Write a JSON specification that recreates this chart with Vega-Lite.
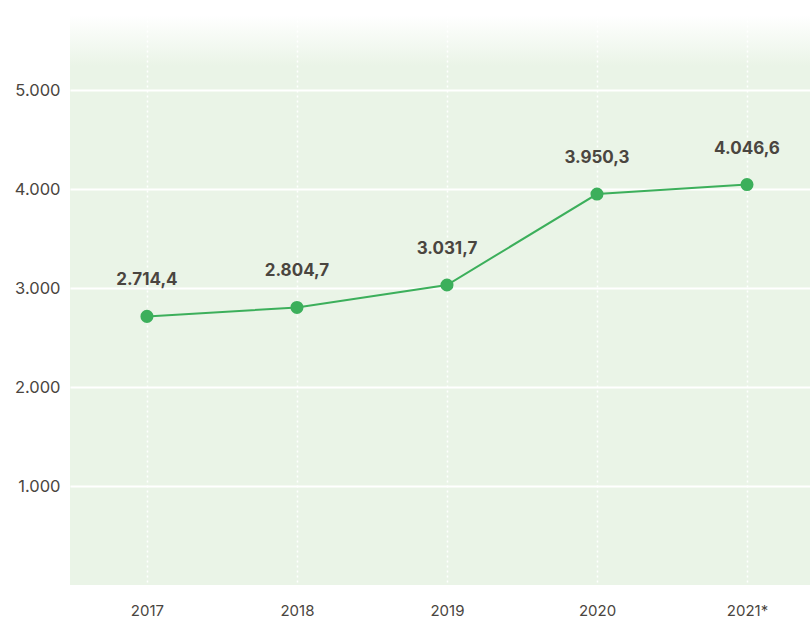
{
  "$schema": "https://vega.github.io/schema/vega-lite/v6.json",
  "width": 740,
  "height": 570,
  "autosize": "none",
  "padding": {"left": 70, "top": 15, "right": 0, "bottom": 35},
  "background": "white",
  "config": {
    "locale": {"number": {"decimal": ",", "thousands": ".", "grouping": [3], "currency": ["", " €"]}},
    "view": {
      "stroke": null,
      "fill": {"gradient": "linear", "x1": 0, "y1": 0, "x2": 0, "y2": 1,
        "stops": [{"offset": 0, "color": "#ffffff"}, {"offset": 0.09, "color": "#eaf4e7"}, {"offset": 1, "color": "#eaf4e7"}]}
    },
    "font": "Inter"
  },
  "data": {"values": [
    {"year": 2017, "value": 2714.4},
    {"year": 2018, "value": 2804.7},
    {"year": 2019, "value": 3031.7},
    {"year": 2020, "value": 3950.3},
    {"year": 2021, "value": 4046.6}
  ]},
  "encoding": {
    "x": {"field": "year", "type": "quantitative",
      "scale": {"domain": [2016.487, 2021.42], "nice": false, "zero": false},
      "axis": {"title": null, "values": [2017, 2018, 2019, 2020, 2021], "format": "d",
        "labelExpr": "datum.value == 2021 ? '2021*' : datum.label",
        "domain": false, "ticks": false, "labelPadding": 18, "labelFontSize": 15, "labelColor": "#4a4540",
        "grid": true, "gridColor": "#ffffff", "gridWidth": 1.5, "gridDash": [2, 3], "gridOpacity": 1}},
    "y": {"field": "value", "type": "quantitative",
      "scale": {"domain": [0, 5760], "nice": false},
      "axis": {"title": null, "values": [1000, 2000, 3000, 4000, 5000], "format": ",d",
        "domain": false, "ticks": false, "labelPadding": 10, "labelFontSize": 16.5, "labelColor": "#4a4540",
        "grid": true, "gridColor": "#ffffff", "gridWidth": 2, "gridOpacity": 1}}
  },
  "layer": [
    {"mark": {"type": "line", "color": "#3caf5b", "strokeWidth": 2}},
    {"mark": {"type": "point", "filled": true, "color": "#3caf5b", "size": 170, "opacity": 1}},
    {"mark": {"type": "text", "dy": -36, "fontSize": 17, "fontWeight": "bold", "color": "#4a4540"},
      "encoding": {"text": {"field": "value", "type": "quantitative", "format": ",.1f"}}}
  ]
}
